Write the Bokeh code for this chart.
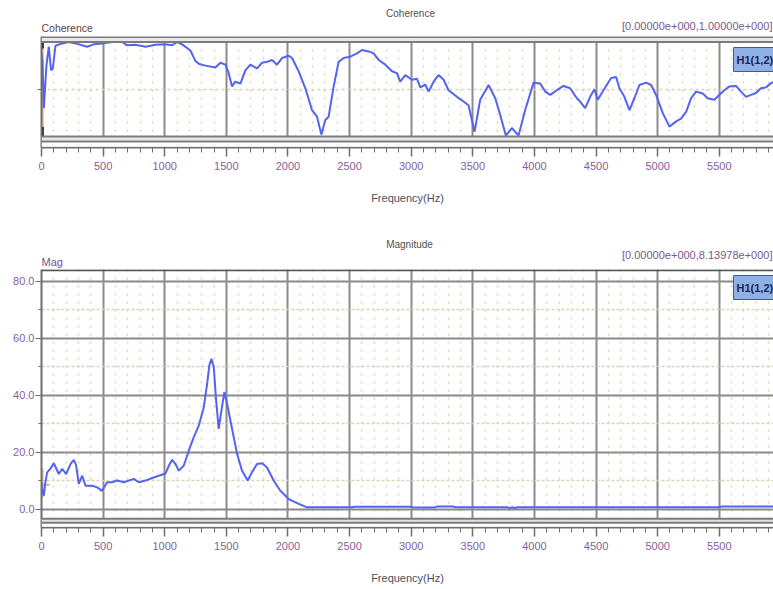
from bokeh.plotting import figure
from bokeh.layouts import column
from bokeh.models import (Range1d, Span, BoxAnnotation, Label, SingleIntervalTicker,
                          FixedTicker, PrintfTickFormatter)
from bokeh.embed import file_html
from bokeh.resources import INLINE

# ---------------- data ----------------
# Coherence H1(1,2) versus frequency (Hz)
coh_freq = [0, 8, 19, 40, 59, 78, 92, 113, 168, 222,
            276, 316, 370, 424, 492, 573, 654, 695, 762, 843,
            925, 1006, 1060, 1100, 1141, 1208, 1249, 1276, 1330, 1411,
            1452, 1492, 1519, 1546, 1573, 1614, 1654, 1695, 1749, 1790,
            1830, 1871, 1911, 1952, 2006, 2033, 2087, 2141, 2195, 2236,
            2271, 2303, 2330, 2371, 2411, 2452, 2506, 2560, 2601, 2655,
            2695, 2736, 2790, 2844, 2884, 2911, 2952, 3006, 3047, 3074,
            3114, 3141, 3182, 3222, 3263, 3303, 3371, 3425, 3465, 3514,
            3560, 3628, 3682, 3722, 3768, 3817, 3871, 3925, 3993, 4047,
            4088, 4128, 4182, 4236, 4290, 4344, 4371, 4412, 4452, 4487,
            4514, 4560, 4622, 4663, 4690, 4730, 4771, 4811, 4852, 4906,
            4947, 4987, 5041, 5095, 5150, 5190, 5231, 5271, 5312, 5366,
            5406, 5460, 5500, 5541, 5582, 5636, 5676, 5717, 5757, 5798,
            5838, 5879, 5920, 5950]
coh_val = [0.88, 0.80, 0.30, 0.75, 0.95, 0.70, 0.72, 0.96, 0.985, 1.0,
           0.985, 0.97, 0.95, 0.975, 0.985, 1.0, 1.0, 0.965, 0.97, 0.95,
           0.97, 0.975, 0.965, 1.0, 0.975, 0.91, 0.80, 0.77, 0.75, 0.73,
           0.78, 0.76, 0.67, 0.53, 0.58, 0.56, 0.70, 0.76, 0.72, 0.78,
           0.79, 0.81, 0.76, 0.83, 0.855, 0.83, 0.69, 0.51, 0.28, 0.21,
           0.02, 0.175, 0.21, 0.53, 0.79, 0.83, 0.845, 0.88, 0.915, 0.90,
           0.88, 0.81, 0.76, 0.69, 0.67, 0.58, 0.65, 0.60, 0.61, 0.52,
           0.55, 0.475, 0.58, 0.65, 0.60, 0.49, 0.42, 0.37, 0.33, 0.05,
           0.39, 0.545, 0.405, 0.23, 0.01, 0.09, 0.01, 0.28, 0.57, 0.56,
           0.475, 0.44, 0.49, 0.535, 0.51, 0.405, 0.37, 0.30, 0.42, 0.50,
           0.39, 0.49, 0.62, 0.63, 0.51, 0.42, 0.28, 0.405, 0.545, 0.57,
           0.545, 0.44, 0.25, 0.105, 0.16, 0.19, 0.26, 0.405, 0.475, 0.455,
           0.405, 0.39, 0.44, 0.49, 0.53, 0.535, 0.475, 0.42, 0.44, 0.46,
           0.51, 0.52, 0.565, 0.58]

# Magnitude H1(1,2) versus frequency (Hz)
mag_freq = [0, 8, 19, 30, 46, 71, 100, 140, 168, 200,
            235, 262, 281, 303, 330, 357, 411, 452, 492, 533,
            573, 614, 668, 749, 789, 844, 898, 952, 1006, 1033,
            1060, 1087, 1114, 1154, 1195, 1235, 1276, 1317, 1344, 1362,
            1379, 1398, 1416, 1438, 1460, 1484, 1506, 1546, 1587, 1627,
            1673, 1708, 1749, 1790, 1830, 1884, 1938, 2006, 2087, 2155,
            2520, 2540, 3000, 3020, 3190, 3210, 3340, 3360, 3780, 3800,
            3820, 3840, 3860, 5500, 5520, 5950]
mag_val = [9.0, 6.0, 4.7, 9.0, 12.9, 14.1, 16.1, 12.3, 14.1, 12.3,
           15.8, 17.3, 15.3, 8.8, 11.7, 8.2, 8.2, 7.6, 6.4, 9.4,
           9.4, 10.0, 9.4, 10.6, 9.4, 10.0, 10.9, 11.7, 12.5, 15.2,
           17.3, 15.8, 13.5, 15.2, 20.5, 25.2, 29.3, 35.8, 44.0, 50.5,
           52.8, 49.9, 38.7, 28.2, 34.6, 41.1, 37.0, 28.2, 19.4, 13.5,
           10.0, 12.9, 15.8, 16.1, 14.6, 10.0, 6.4, 3.5, 1.8, 0.6,
           0.6, 0.8, 0.8, 0.5, 0.5, 0.9, 0.9, 0.6, 0.6, 0.3,
           0.6, 0.3, 0.6, 0.6, 0.9, 0.9]

# cursor markers at the start of each trace
coh_cursor_freq = 6
mag_cursor_freq = 5
mag_cursor_span = [4.0, 14.2]
mag_cursor_level = 8.5
mag_cursor_reach = 65

series_name = "H1(1,2)"
coh_range_text = "[0.00000e+000,1.00000e+000]"
mag_range_text = "[0.00000e+000,8.13978e+000]"

# ---------------- styling ----------------
FONT = "Liberation Sans"
F_END = 5940
BLUE = "#5563f2"
GRID = "#8c8c8c"
DOTS = "#d8d4b8"
AXIS = "#6e6e6e"
TICK_TEXT = "#85609e"
W = 773
LEFT = 41


def header(height):
    """Strip above a panel that carries its title, quantity name and range.
    Its frame spans the same columns as the panels, so x is in page pixels."""
    h = figure(width=W, height=height, x_range=Range1d(LEFT, W), y_range=Range1d(0, height),
               output_backend="svg", toolbar_location=None,
               min_border_left=LEFT, min_border_right=0, min_border_top=0,
               min_border_bottom=0, x_axis_location=None, y_axis_location=None)
    h.outline_line_color = None
    h.grid.visible = False
    return h


def put(h, text, x, y, size="11px", color="#4a4a4a", align="left", style="normal", **kw):
    h.add_layout(Label(x=x, y=y, text=text, text_font=FONT, text_font_size=size,
                       text_color=color, text_align=align, text_baseline="middle",
                       text_font_style=style, **kw))


def base_panel(height, bottom, y_range):
    p = figure(width=W, height=height, x_range=Range1d(0, F_END), y_range=y_range,
               output_backend="svg", toolbar_location=None,
               min_border_left=LEFT, min_border_right=0,
               min_border_top=0, min_border_bottom=bottom)
    p.outline_line_color = None
    p.border_fill_color = "white"
    ticker = SingleIntervalTicker(interval=500, num_minor_ticks=5)
    xa = p.xaxis[0]
    xa.ticker = ticker
    p.xgrid.ticker = ticker
    xa.axis_line_color = AXIS
    xa.axis_line_width = 2
    xa.major_tick_line_color = AXIS
    xa.major_tick_line_width = 1.5
    xa.major_tick_in = 0
    xa.major_tick_out = 9
    xa.minor_tick_line_color = AXIS
    xa.minor_tick_in = 0
    xa.minor_tick_out = 5
    xa.major_label_text_font = FONT
    xa.major_label_text_font_size = "11px"
    xa.major_label_text_color = TICK_TEXT
    xa.major_label_standoff = 5
    xa.axis_label = "Frequency(Hz)"
    xa.axis_label_text_font = FONT
    xa.axis_label_text_font_size = "11px"
    xa.axis_label_text_font_style = "normal"
    xa.axis_label_text_color = "#4d4d5c"
    xa.axis_label_standoff = 19
    p.xgrid.grid_line_color = GRID
    p.xgrid.grid_line_width = 2
    p.xgrid.minor_grid_line_color = DOTS
    p.xgrid.minor_grid_line_dash = "2 6"
    p.xgrid.minor_grid_line_width = 1.5
    ya = p.yaxis[0]
    ya.axis_line_color = AXIS
    ya.axis_line_width = 2
    ya.major_tick_line_color = AXIS
    ya.major_tick_in = 0
    ya.minor_tick_line_color = AXIS
    ya.minor_tick_in = 0
    ya.major_label_text_font = FONT
    ya.major_label_text_font_size = "11px"
    ya.major_label_text_color = TICK_TEXT
    return p


def add_badge(p, sy_from_bottom):
    p.add_layout(Label(x=733 - LEFT, y=sy_from_bottom, x_units="screen", y_units="screen",
                       text=series_name, text_font=FONT, text_font_size="11px",
                       text_font_style="bold", text_color="#1c2454", text_baseline="middle",
                       background_fill_color="#8fb1e6", border_line_color="#3d5c94",
                       border_line_width=1,
                       padding=dict(left=3, right=3, top=6, bottom=6)))


def hband(p, lo, hi, color):
    p.add_layout(BoxAnnotation(bottom=lo, top=hi, fill_color=color, fill_alpha=1,
                               line_color=None))


def hline(p, loc, color="#7c7c7c", width=2):
    p.add_layout(Span(location=loc, dimension="width", line_color=color, line_width=width))


# ---------------- coherence panel ----------------
h1 = header(36)
put(h1, "Coherence", 410, 23, size="10px", color="#505050", align="center")
put(h1, "Coherence", 41, 9, size="10.5px", color="#5e4248")
put(h1, coh_range_text, 772, 11, size="11px", color="#7a5a8c", align="right")

p1 = base_panel(186, 75, Range1d(-0.116, 1.058))
p1.yaxis[0].ticker = FixedTicker(ticks=[0.5])
p1.yaxis[0].major_label_overrides = {0.5: ""}
p1.yaxis[0].major_tick_out = 4
p1.ygrid.ticker = FixedTicker(ticks=[0.5])
p1.ygrid.grid_line_color = DOTS
p1.ygrid.grid_line_dash = "3 3"
p1.ygrid.grid_line_width = 1.5

hband(p1, -0.108, -0.056, "white")
hband(p1, 1.0, 1.053, "#e8e8e8")
hband(p1, -0.053, 0.0, "#e8e8e8")
for loc in (1.0, 1.053, 0.0, -0.053):
    hline(p1, loc)

p1.segment(x0=[coh_cursor_freq], y0=[0.0], x1=[coh_cursor_freq], y1=[1.0],
           line_color="#f5bd85", line_width=3)
p1.segment(x0=[coh_cursor_freq] * 2, y0=[0.93, -0.05], x1=[coh_cursor_freq] * 2,
           y1=[1.05, 0.10], line_color="#111111", line_width=3)
p1.line(coh_freq, coh_val, line_color=BLUE, line_width=2)
add_badge(p1, 147 - 59)

# ---------------- magnitude panel ----------------
h2 = header(47)
put(h2, "Magnitude", 409, 25, size="10px", color="#505050", align="center")
put(h2, "Mag", 41, 8, size="11px", color="#7a4f9a")
put(h2, mag_range_text, 772, 15, size="11px", color="#7a5a8c", align="right")

p2 = base_panel(320, 62, Range1d(-6.5, 84.2))
mt = SingleIntervalTicker(interval=20, num_minor_ticks=2)
p2.yaxis[0].ticker = mt
p2.ygrid.ticker = mt
p2.yaxis[0].formatter = PrintfTickFormatter(format="%.1f")
p2.yaxis[0].major_tick_out = 6
p2.yaxis[0].minor_tick_out = 3
p2.yaxis[0].major_label_standoff = 1
p2.ygrid.grid_line_color = GRID
p2.ygrid.grid_line_width = 2
p2.ygrid.minor_grid_line_color = DOTS
p2.ygrid.minor_grid_line_dash = "3 2"
p2.ygrid.minor_grid_line_width = 1.5

hband(p2, -6.2, -4.9, "white")
hband(p2, -4.8, -3.4, "#e4e4e4")
hline(p2, -3.4)
hline(p2, -4.8)
hline(p2, 83.9, color="#555555")

p2.segment(x0=[mag_cursor_freq], y0=[mag_cursor_span[0]], x1=[mag_cursor_freq],
           y1=[mag_cursor_span[1]], line_color="#f5bd85", line_width=3)
p2.segment(x0=[mag_cursor_freq], y0=[mag_cursor_level], x1=[mag_cursor_reach],
           y1=[mag_cursor_level], line_color="#f5a860", line_width=2)
p2.line(mag_freq, mag_val, line_color=BLUE, line_width=2)
add_badge(p2, 527 - 287)

layout = column(h1, p1, h2, p2)
open("out.html", "w").write(file_html(layout, INLINE))
